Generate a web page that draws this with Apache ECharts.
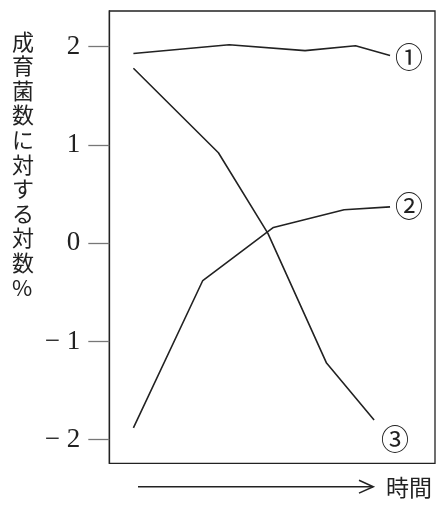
<!DOCTYPE html>
<html>
<head>
<meta charset="utf-8">
<script src="https://cdn.jsdelivr.net/npm/echarts@6/dist/echarts.min.js"></script>
<style>
html,body{margin:0;padding:0;background:#fff;}
#c{width:448px;height:509px;}
</style>
</head>
<body>
<div id="c"></div>
<script>
// ---- data ----
const seriesNames = ['①', '②', '③'];
const s1X = [7.4, 36.8, 60.1, 75.6, 86.2];
const s1Y = [1.93, 2.02, 1.96, 2.01, 1.91];
const s2X = [7.4, 28.7, 50.4, 72.1, 86.2];
const s2Y = [-1.88, -0.38, 0.16, 0.34, 0.37];
const s3X = [7.4, 33.5, 48.7, 66.7, 81.3];
const s3Y = [1.78, 0.92, 0.10, -1.22, -1.80];
const yTicks = [-2, -1, 0, 1, 2];
const yAxisTitle = '成育菌数に対する対数%';
const xAxisTitle = '時間';

function pairs(xs, ys) { return xs.map((x, i) => [x, ys[i]]); }

const chart = echarts.init(document.getElementById('c'));
const ink = '#222';
const serifNum = '"Liberation Serif", "DejaVu Serif", serif';
const jp = '"Noto Sans CJK JP", sans-serif';

const labelOffsets = [[5, 2], [5, 0], [7, 19]];
const data = [pairs(s1X, s1Y), pairs(s2X, s2Y), pairs(s3X, s3Y)];

chart.setOption({
  backgroundColor: '#fff',
  animation: false,
  grid: {
    left: 109.3, right: 13, top: 11, bottom: 45.7,
    show: true, borderColor: ink, borderWidth: 1.3, backgroundColor: 'transparent'
  },
  xAxis: {
    type: 'value', min: 0, max: 100,
    axisLine: { show: false }, axisTick: { show: false },
    axisLabel: { show: false }, splitLine: { show: false }
  },
  yAxis: {
    type: 'value', min: -2.24, max: 2.363,
    axisLine: { show: true, lineStyle: { color: ink, width: 1.3 } },
    axisTick: { show: true, customValues: yTicks, length: 21, inside: false,
                lineStyle: { color: '#777', width: 1.3 } },
    axisLabel: {
      show: true, customValues: yTicks, margin: 29,
      fontFamily: serifNum, fontSize: 27, color: ink,
      formatter: v => (v < 0 ? '− ' + Math.abs(v) : String(v))
    },
    splitLine: { show: false }
  },
  series: data.map((d, i) => ({
    type: 'line',
    name: seriesNames[i],
    data: d,
    symbol: 'none',
    lineStyle: { color: ink, width: 1.6 },
    endLabel: {
      show: true, formatter: seriesNames[i], distance: 0,
      offset: labelOffsets[i],
      fontFamily: jp, fontSize: 28, color: ink
    }
  })),
  graphic: [
    {
      type: 'text', left: 12, top: 29,
      style: {
        text: yAxisTitle.split('').join('\n'),
        fill: ink, font: '22px ' + jp, lineHeight: 24.6
      }
    },
    {
      type: 'line',
      shape: { x1: 138, y1: 486.7, x2: 373, y2: 486.7 },
      style: { stroke: ink, lineWidth: 1.5 }
    },
    {
      type: 'polyline',
      shape: { points: [[359, 480.3], [373.3, 486.7], [359, 493.1]] },
      style: { stroke: ink, lineWidth: 1.5, fill: null }
    },
    {
      type: 'text', x: 386, y: 487,
      style: { text: xAxisTitle, fill: ink, font: '23px ' + jp,
               textVerticalAlign: 'middle', verticalAlign: 'middle' }
    }
  ]
});
</script>
</body>
</html>
